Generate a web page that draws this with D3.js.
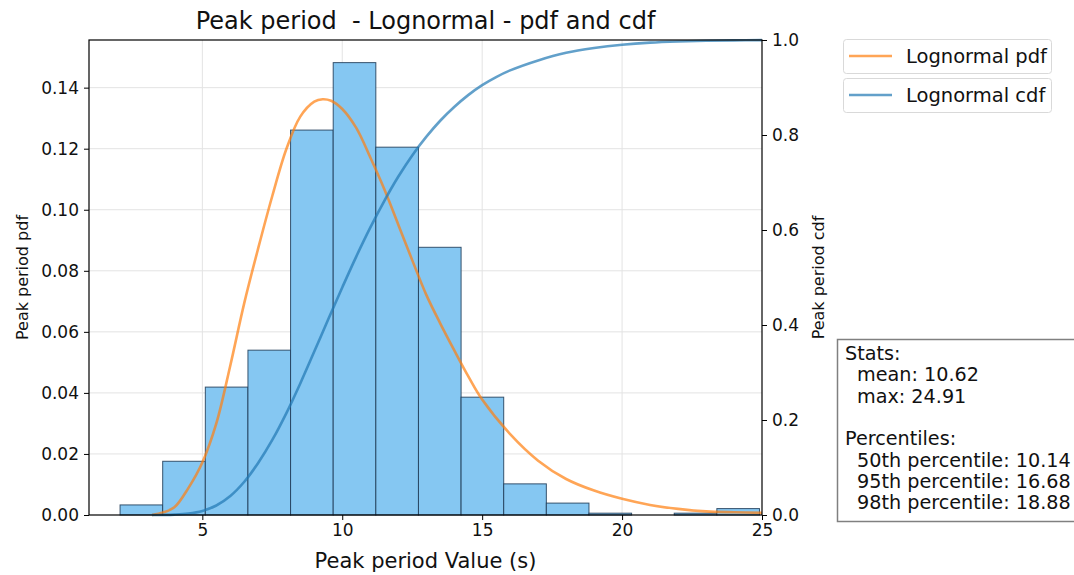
<!DOCTYPE html>
<html>
<head>
<meta charset="utf-8">
<script src="https://cdn.jsdelivr.net/npm/d3@7"></script>
<style>
  html, body { margin: 0; padding: 0; background: #fff; }
  svg { display: block; font-family: "DejaVu Sans", sans-serif; }
  text { white-space: pre; }
</style>
</head>
<body>
<svg id="chart" width="1074" height="575"></svg>
<script>
// Histogram of peak period (density), 15 equal bins between min and max
const binStart = 2.06;
const binEnd = 24.91;
const binDensity = [0.0033, 0.0176, 0.0419, 0.0540, 0.1261, 0.1482, 0.1205, 0.0877,
                    0.0386, 0.0102, 0.0039, 0.0006, 0.0000, 0.0006, 0.0021];

// Fitted lognormal pdf, sampled along x
const pdfX = [3.2, 3.6, 4.0, 4.5, 5.0, 5.5, 6.0, 6.5, 7.0, 7.5, 8.0, 8.5, 9.0, 9.3, 9.6,
              10.0, 10.5, 11.0, 11.5, 12.0, 12.5, 13.0, 13.5, 14.0, 14.5, 15.0, 16.0, 17.0,
              18.0, 19.0, 20.0, 21.0, 22.0, 23.0, 24.0, 25.0];
const pdfY = [0.0, 0.0008, 0.0025, 0.0088, 0.0172, 0.0300, 0.0490, 0.0695, 0.0875, 0.1045,
              0.1198, 0.1305, 0.1354, 0.1362, 0.1357, 0.1330, 0.1268, 0.1172, 0.1068, 0.0952,
              0.0835, 0.0722, 0.0628, 0.0540, 0.0455, 0.0378, 0.0265, 0.0178, 0.0118, 0.0080,
              0.0053, 0.0033, 0.0020, 0.0012, 0.0009, 0.0007];

// Fitted lognormal cdf, sampled along x
const cdfX = [3.2, 3.6, 4.0, 4.5, 5.0, 5.5, 6.0, 6.5, 7.0, 7.5, 8.0, 8.5, 9.0, 9.5, 10.0,
              10.5, 11.0, 11.5, 12.0, 12.5, 13.0, 13.5, 14.0, 14.5, 15.0, 15.5, 16.0, 17.0,
              18.0, 19.0, 20.0, 21.0, 22.0, 23.0, 24.0, 25.0];
const cdfY = [0.0, 0.0002, 0.0008, 0.003, 0.0085, 0.020, 0.040, 0.070, 0.110, 0.158, 0.214,
              0.277, 0.344, 0.412, 0.479, 0.544, 0.605, 0.661, 0.712, 0.757, 0.796, 0.830,
              0.859, 0.884, 0.905, 0.922, 0.936, 0.957, 0.973, 0.983, 0.990, 0.9945, 0.997,
              0.9985, 0.9993, 0.9997];

// Tick values
const xTicks = [5, 10, 15, 20, 25];
const pdfTicks = [0, 0.02, 0.04, 0.06, 0.08, 0.10, 0.12, 0.14];
const cdfTicks = [0, 0.2, 0.4, 0.6, 0.8, 1.0];

// Text
const titleText = "Peak period  - Lognormal - pdf and cdf";
const xLabel = "Peak period Value (s)";
const yLabelLeft = "Peak period pdf";
const yLabelRight = "Peak period cdf";
const legendLabels = ["Lognormal pdf", "Lognormal cdf"];
const statsLines = [
  { text: "Stats:", indent: false },
  { text: "mean: 10.62", indent: true },
  { text: "max: 24.91", indent: true },
  { text: "", indent: false },
  { text: "Percentiles:", indent: false },
  { text: "50th percentile: 10.14", indent: true },
  { text: "95th percentile: 16.68", indent: true },
  { text: "98th percentile: 18.88", indent: true }
];

const svg = d3.select("#chart");
const plot = { left: 89, right: 762, top: 40, bottom: 515 };

const binWidth = (binEnd - binStart) / binDensity.length;
const bins = binDensity.map((d, i) => ({ x0: binStart + i * binWidth, x1: binStart + (i + 1) * binWidth, v: d }));

const x = d3.scaleLinear().domain([0.95, 25]).range([plot.left, plot.right]);
const yPdf = d3.scaleLinear().domain([0, d3.max(binDensity) * 1.05]).range([plot.bottom, plot.top]);
const yCdf = d3.scaleLinear().domain([0, 1]).range([plot.bottom, plot.top]);

const gridColor = "#e3e3e3";
// grid
svg.append("g").selectAll("line").data(xTicks.filter(t => t < 25)).join("line")
  .attr("x1", d => x(d)).attr("x2", d => x(d))
  .attr("y1", plot.top).attr("y2", plot.bottom)
  .attr("stroke", gridColor).attr("stroke-width", 1);
svg.append("g").selectAll("line").data(pdfTicks.filter(t => t > 0)).join("line")
  .attr("x1", plot.left).attr("x2", plot.right)
  .attr("y1", d => yPdf(d)).attr("y2", d => yPdf(d))
  .attr("stroke", gridColor).attr("stroke-width", 1);

// histogram bars
svg.append("g").selectAll("rect").data(bins).join("rect")
  .attr("x", d => x(d.x0))
  .attr("width", d => x(d.x1) - x(d.x0))
  .attr("y", d => yPdf(d.v))
  .attr("height", d => yPdf(0) - yPdf(d.v))
  .attr("fill", "#85c7f2")
  .attr("stroke", "#1d3a56")
  .attr("stroke-opacity", 0.85)
  .attr("stroke-width", 1);

// pdf curve
const pdfLine = d3.line().x(d => x(d[0])).y(d => yPdf(d[1])).curve(d3.curveCatmullRom.alpha(0.5));
svg.append("path")
  .datum(pdfX.map((v, i) => [v, pdfY[i]]))
  .attr("d", pdfLine)
  .attr("fill", "none")
  .attr("stroke", "#ff7f0e").attr("stroke-opacity", 0.7)
  .attr("stroke-width", 2.6);

// cdf curve
const cdfLine = d3.line().x(d => x(d[0])).y(d => yCdf(d[1])).curve(d3.curveCatmullRom.alpha(0.5));
svg.append("path")
  .datum(cdfX.map((v, i) => [v, cdfY[i]]))
  .attr("d", cdfLine)
  .attr("fill", "none")
  .attr("stroke", "#1f77b4").attr("stroke-opacity", 0.7)
  .attr("stroke-width", 2.6);

// axes
const tickFont = "17px";
const gx = svg.append("g").attr("transform", `translate(0,${plot.bottom})`)
  .call(d3.axisBottom(x).tickValues(xTicks).tickSize(5).tickPadding(4).tickFormat(d3.format("d")));
const gl = svg.append("g").attr("transform", `translate(${plot.left},0)`)
  .call(d3.axisLeft(yPdf).tickValues(pdfTicks).tickSize(5).tickPadding(5).tickFormat(d3.format(".2f")));
const gr = svg.append("g").attr("transform", `translate(${plot.right},0)`)
  .call(d3.axisRight(yCdf).tickValues(cdfTicks).tickSize(5).tickPadding(5).tickFormat(d3.format(".1f")));
[gx, gl, gr].forEach(g => {
  g.select(".domain").remove();
  g.selectAll(".tick line").attr("stroke", "#000").attr("stroke-width", 1);
  g.selectAll(".tick text").attr("font-size", tickFont).attr("fill", "#111")
    .attr("font-family", "DejaVu Sans, sans-serif");
});

// frame
svg.append("rect")
  .attr("x", plot.left).attr("y", plot.top)
  .attr("width", plot.right - plot.left).attr("height", plot.bottom - plot.top)
  .attr("fill", "none").attr("stroke", "#000").attr("stroke-width", 1.2);

// title and labels
const cx = (plot.left + plot.right) / 2;
svg.append("text").attr("x", cx).attr("y", 29).attr("text-anchor", "middle")
  .attr("font-size", "24px").attr("fill", "#111").text(titleText);
svg.append("text").attr("x", cx).attr("y", 568).attr("text-anchor", "middle")
  .attr("font-size", "21px").attr("fill", "#111").text(xLabel);
svg.append("text").attr("transform", `translate(28,${(plot.top + plot.bottom) / 2}) rotate(-90)`)
  .attr("text-anchor", "middle").attr("font-size", "16px").attr("fill", "#111").text(yLabelLeft);
svg.append("text").attr("transform", `translate(824,${(plot.top + plot.bottom) / 2}) rotate(-90)`)
  .attr("text-anchor", "middle").attr("font-size", "16px").attr("fill", "#111").text(yLabelRight);

// legends (one box per series)
const legendColors = ["#ff7f0e", "#1f77b4"];
legendLabels.forEach((lab, i) => {
  const top = 39 + i * 39;
  const g = svg.append("g");
  g.append("rect").attr("x", 843.5).attr("y", top + 0.5).attr("width", 208).attr("height", 34)
    .attr("rx", 3).attr("fill", "#fff").attr("stroke", "#d9d9d9").attr("stroke-width", 1);
  g.append("line").attr("x1", 849).attr("x2", 892).attr("y1", top + 17).attr("y2", top + 17)
    .attr("stroke", legendColors[i]).attr("stroke-opacity", 0.7).attr("stroke-width", 2.6);
  g.append("text").attr("x", 906).attr("y", top + 24).attr("font-size", "19.5px")
    .attr("fill", "#111").text(lab);
});

// stats box
svg.append("rect").attr("x", 837.5).attr("y", 339.5).attr("width", 260).attr("height", 182)
  .attr("fill", "#fff").attr("stroke", "#808080").attr("stroke-width", 1.5);
const st = svg.append("text").attr("font-size", "19.2px").attr("fill", "#111");
statsLines.forEach((l, i) => {
  st.append("tspan").attr("x", l.indent ? 857 : 845).attr("y", 360 + i * 21.3).text(l.text);
});
</script>
</body>
</html>
